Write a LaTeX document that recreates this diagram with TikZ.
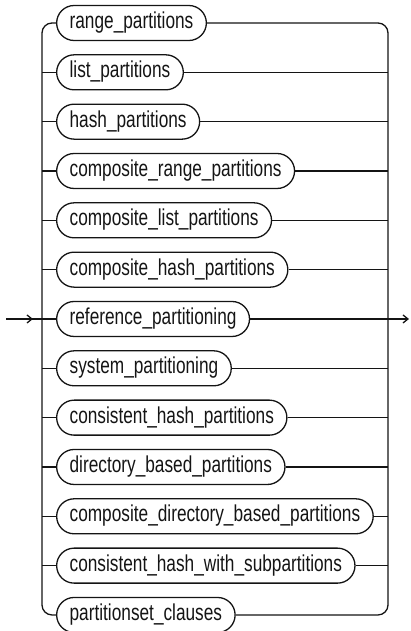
\documentclass[tikz,border=0pt]{standalone}
\usepackage{fontspec}
\setmainfont[FakeStretch=0.75]{Liberation Sans}
\usepackage{tikz}
\usetikzlibrary{arrows.meta,positioning}
\definecolor{ink}{RGB}{20,20,20}

\begin{document}
\begin{tikzpicture}[x=1pt,y=1pt,font=\fontsize{23}{26}\selectfont,
  part/.style={draw=ink,line width=1.3pt,rounded corners=17.5pt,minimum height=35pt,inner xsep=13pt,inner ysep=2pt,text height=15.5pt,text depth=4.5pt,text=ink},
  rail/.style={draw=ink,line width=1.3pt},
  a/.style={rail,-{Straight Barb[length=5pt,width=8pt]}}]
  \useasboundingbox (0,0) rectangle (410,-631);
  \node[part,anchor=west] (rng) at (56,-23) {range\_partitions};
  \node[part,below=13.03pt of rng.south west,anchor=north west] (lst) {list\_partitions};
  \node[part,below=13.03pt of lst.south west,anchor=north west] (hsh) {hash\_partitions};
  \node[part,below=13.03pt of hsh.south west,anchor=north west] (crng) {composite\_range\_partitions};
  \node[part,below=13.03pt of crng.south west,anchor=north west] (clst) {composite\_list\_partitions};
  \node[part,below=13.03pt of clst.south west,anchor=north west] (chsh) {composite\_hash\_partitions};
  \node[part,below=13.03pt of chsh.south west,anchor=north west] (ref) {reference\_partitioning};
  \node[part,below=13.03pt of ref.south west,anchor=north west] (sys) {system\_partitioning};
  \node[part,below=13.03pt of sys.south west,anchor=north west] (chp) {consistent\_hash\_partitions};
  \node[part,below=13.03pt of chp.south west,anchor=north west] (dbp) {directory\_based\_partitions};
  \node[part,below=13.03pt of dbp.south west,anchor=north west] (cdbp) {composite\_directory\_based\_partitions};
  \node[part,below=13.03pt of cdbp.south west,anchor=north west] (chsp) {consistent\_hash\_with\_subpartitions};
  \node[part,below=13.03pt of chsp.south west,anchor=north west] (psc) {partitionset\_clauses};
  \coordinate (lx) at (42,0); \coordinate (rx) at (388,0); \coordinate (out) at (409,0);
  \coordinate[left=50pt of ref.west] (in); \coordinate[left=23pt of ref.west] (intip);
  % outer rails
  \draw[rail,rounded corners=10pt] (rng.west) -- (rng.west -| lx) |- (psc.west);
  \draw[rail,rounded corners=10pt] (rng.east) -- (rng.east -| rx) |- (psc.east);
  % branches
  \draw[rail] (lst.west -| lx) -- (lst.west) (lst.east) -- (lst.east -| rx);
  \draw[rail] (hsh.west -| lx) -- (hsh.west) (hsh.east) -- (hsh.east -| rx);
  \draw[rail] (crng.west -| lx) -- (crng.west) (crng.east) -- (crng.east -| rx);
  \draw[rail] (clst.west -| lx) -- (clst.west) (clst.east) -- (clst.east -| rx);
  \draw[rail] (chsh.west -| lx) -- (chsh.west) (chsh.east) -- (chsh.east -| rx);
  \draw[rail] (sys.west -| lx) -- (sys.west) (sys.east) -- (sys.east -| rx);
  \draw[rail] (chp.west -| lx) -- (chp.west) (chp.east) -- (chp.east -| rx);
  \draw[rail] (dbp.west -| lx) -- (dbp.west) (dbp.east) -- (dbp.east -| rx);
  \draw[rail] (cdbp.west -| lx) -- (cdbp.west) (cdbp.east) -- (cdbp.east -| rx);
  \draw[rail] (chsp.west -| lx) -- (chsp.west) (chsp.east) -- (chsp.east -| rx);
  % entry and exit
  \draw[rail] (in) -- (ref.west); \draw[a] (in) -- (intip);
  \draw[a] (ref.east) -- (ref.east -| out);
\end{tikzpicture}
\end{document}
